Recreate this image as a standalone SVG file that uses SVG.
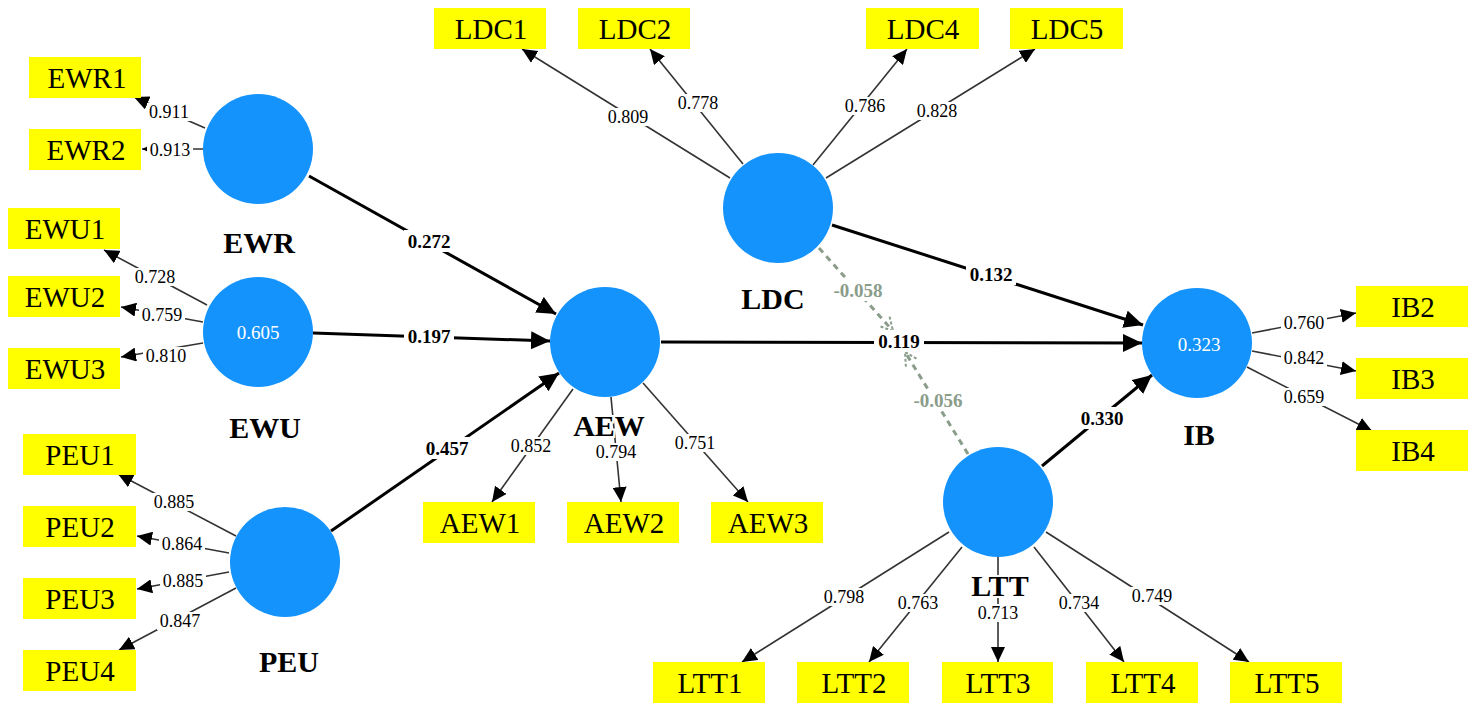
<svg xmlns="http://www.w3.org/2000/svg" width="1482" height="717" viewBox="0 0 1482 717">
<style>
.bg{fill:#ffffff}
.ind rect{fill:#ffff00}
.ind text{font-family:"Liberation Serif","Times New Roman",serif;font-size:29px;fill:#000;text-anchor:middle}
.lv circle{fill:#1493fd}
.lv text.nm{font-family:"Liberation Serif","Times New Roman",serif;font-size:30px;font-weight:bold;fill:#000;text-anchor:middle;stroke:#fff;stroke-width:4;paint-order:stroke}
.lv text.r2{font-family:"Liberation Serif","Times New Roman",serif;font-size:19px;fill:#fff;text-anchor:middle}
.ld{stroke:#333;stroke-width:1.6;fill:none;marker-end:url(#ah)}
.pt{stroke:#000;stroke-width:3;fill:none;marker-end:url(#ahb)}
.ds{stroke:#8a9c8a;stroke-width:3;stroke-dasharray:6 5;fill:none;marker-end:url(#ahd)}
.lb rect{fill:#fff}
.lb text{font-family:"Liberation Serif","Times New Roman",serif;font-size:18px;fill:#000;text-anchor:middle}
.lb text.b{font-size:19px;font-weight:bold}
.lb text.g{font-size:19px;font-weight:bold;fill:#8a9c8a}
</style>
<defs>
<marker id="ah" markerUnits="userSpaceOnUse" markerWidth="16" markerHeight="14" refX="15" refY="7" orient="auto"><path d="M0,0 L15,7 L0,14 z" fill="#000"/></marker>
<marker id="ahb" markerUnits="userSpaceOnUse" markerWidth="20" markerHeight="18" refX="19" refY="9" orient="auto"><path d="M0,0 L19,9 L0,18 z" fill="#000"/></marker>
<marker id="ahd" markerUnits="userSpaceOnUse" markerWidth="16" markerHeight="16" refX="14" refY="8" orient="auto"><path d="M1,1 L14,8 L1,15" fill="none" stroke="#8a9c8a" stroke-width="2" stroke-dasharray="3 2"/></marker>
</defs>
<rect class="bg" x="0" y="0" width="1482" height="717"/>

<g id="connectors">
  <!-- loadings -->
  <line class="ld" x1="205" y1="128" x2="134" y2="97"/>
  <line class="ld" x1="203" y1="149" x2="142" y2="149"/>
  <line class="ld" x1="207" y1="305" x2="104" y2="250"/>
  <line class="ld" x1="203" y1="322" x2="121" y2="307"/>
  <line class="ld" x1="203" y1="343" x2="121" y2="357"/>
  <line class="ld" x1="236" y1="536" x2="118" y2="474"/>
  <line class="ld" x1="229" y1="553" x2="137" y2="536"/>
  <line class="ld" x1="229" y1="572" x2="137" y2="589"/>
  <line class="ld" x1="236" y1="588" x2="119" y2="650"/>
  <line class="ld" x1="730" y1="178" x2="522" y2="49"/>
  <line class="ld" x1="743" y1="164" x2="650" y2="49"/>
  <line class="ld" x1="813" y1="165" x2="907" y2="49"/>
  <line class="ld" x1="826" y1="178" x2="1035" y2="49"/>
  <line class="ld" x1="573" y1="389" x2="492" y2="502"/>
  <line class="ld" x1="611" y1="397" x2="621" y2="502"/>
  <line class="ld" x1="643" y1="383" x2="748" y2="502"/>
  <line class="ld" x1="1252" y1="333" x2="1356" y2="313"/>
  <line class="ld" x1="1252" y1="351" x2="1356" y2="371"/>
  <line class="ld" x1="1247" y1="367" x2="1372" y2="431"/>
  <line class="ld" x1="949" y1="532" x2="742" y2="662"/>
  <line class="ld" x1="962" y1="547" x2="869" y2="662"/>
  <line class="ld" x1="998" y1="557" x2="998" y2="662"/>
  <line class="ld" x1="1034" y1="547" x2="1124" y2="662"/>
  <line class="ld" x1="1046" y1="532" x2="1249" y2="662"/>
  <!-- paths -->
  <line class="pt" x1="309" y1="176" x2="556" y2="314"/>
  <line class="pt" x1="313" y1="333" x2="550" y2="341"/>
  <line class="pt" x1="331" y1="531" x2="559" y2="373"/>
  <line class="pt" x1="661" y1="342" x2="1142" y2="343"/>
  <line class="pt" x1="832" y1="225" x2="1143" y2="325"/>
  <line class="pt" x1="1042" y1="466" x2="1152" y2="375"/>
  <!-- moderating (dashed) -->
  <line class="ds" x1="819" y1="248" x2="893" y2="331"/>
  <line class="ds" x1="968" y1="454" x2="905" y2="352"/>
  <!-- labels -->
  <g class="lb">
    <rect x="147" y="103" width="46" height="18"/><text x="169" y="118">0.911</text>
    <rect x="147" y="141" width="46" height="18"/><text x="170" y="156">0.913</text>
    <rect x="132" y="268" width="46" height="18"/><text x="155" y="283">0.728</text>
    <rect x="139" y="306" width="46" height="18"/><text x="162" y="321">0.759</text>
    <rect x="143" y="347" width="46" height="18"/><text x="166" y="362">0.810</text>
    <rect x="151" y="493" width="46" height="18"/><text x="174" y="508">0.885</text>
    <rect x="159" y="535" width="46" height="18"/><text x="182" y="550">0.864</text>
    <rect x="160" y="572" width="46" height="18"/><text x="183" y="587">0.885</text>
    <rect x="157" y="612" width="46" height="18"/><text x="180" y="627">0.847</text>
    <rect x="605" y="108" width="46" height="18"/><text x="628" y="123">0.809</text>
    <rect x="675" y="94" width="46" height="18"/><text x="698" y="109">0.778</text>
    <rect x="842" y="97" width="46" height="18"/><text x="865" y="112">0.786</text>
    <rect x="914" y="102" width="46" height="18"/><text x="937" y="117">0.828</text>
    <rect x="508" y="437" width="46" height="18"/><text x="531" y="452">0.852</text>
    <rect x="593" y="443" width="46" height="18"/><text x="616" y="458">0.794</text>
    <rect x="672" y="434" width="46" height="18"/><text x="695" y="449">0.751</text>
    <rect x="1281" y="314" width="46" height="18"/><text x="1304" y="329">0.760</text>
    <rect x="1281" y="349" width="46" height="18"/><text x="1304" y="364">0.842</text>
    <rect x="1281" y="388" width="46" height="18"/><text x="1304" y="403">0.659</text>
    <rect x="821" y="588" width="46" height="18"/><text x="844" y="603">0.798</text>
    <rect x="895" y="594" width="46" height="18"/><text x="918" y="609">0.763</text>
    <rect x="975" y="604" width="46" height="18"/><text x="998" y="619">0.713</text>
    <rect x="1056" y="594" width="46" height="18"/><text x="1079" y="609">0.734</text>
    <rect x="1129" y="587" width="46" height="18"/><text x="1152" y="602">0.749</text>
    <rect x="404" y="230" width="50" height="22"/><text class="b" x="429" y="248">0.272</text>
    <rect x="404" y="325" width="50" height="22"/><text class="b" x="429" y="343">0.197</text>
    <rect x="422" y="437" width="50" height="22"/><text class="b" x="447" y="455">0.457</text>
    <rect x="874" y="330" width="50" height="22"/><text class="b" x="899" y="348">0.119</text>
    <rect x="966" y="263" width="50" height="22"/><text class="b" x="991" y="281">0.132</text>
    <rect x="1077" y="407" width="50" height="22"/><text class="b" x="1102" y="425">0.330</text>
    <rect x="831" y="279" width="54" height="22"/><text class="g" x="858" y="297">-0.058</text>
    <rect x="911" y="389" width="54" height="22"/><text class="g" x="938" y="407">-0.056</text>
  </g>
</g>

<g id="EWR" class="lv"><circle cx="258" cy="149" r="55"/><text class="nm" x="259" y="253">EWR</text></g>
<g id="EWU" class="lv"><circle cx="258" cy="332" r="55"/><text class="r2" x="258" y="339">0.605</text><text class="nm" x="265" y="438">EWU</text></g>
<g id="PEU" class="lv"><circle cx="285" cy="562" r="55"/><text class="nm" x="289" y="672">PEU</text></g>
<g id="AEW" class="lv"><circle cx="605" cy="342" r="55"/><text class="nm" x="609" y="436">AEW</text></g>
<g id="LDC" class="lv"><circle cx="778" cy="208" r="55"/><text class="nm" x="773" y="309">LDC</text></g>
<g id="IB" class="lv"><circle cx="1197" cy="343" r="55"/><text class="r2" x="1199" y="351">0.323</text><text class="nm" x="1199" y="445">IB</text></g>
<g id="LTT" class="lv"><circle cx="998" cy="502" r="55"/><text class="nm" x="1000" y="596">LTT</text></g>

<g id="EWR1" class="ind"><rect x="29" y="57" width="112" height="41"/><text x="87" y="88">EWR1</text></g>
<g id="EWR2" class="ind"><rect x="29" y="129" width="112" height="41"/><text x="86" y="160">EWR2</text></g>
<g id="EWU1" class="ind"><rect x="8" y="208" width="112" height="41"/><text x="65" y="239">EWU1</text></g>
<g id="EWU2" class="ind"><rect x="8" y="276" width="112" height="41"/><text x="65" y="307">EWU2</text></g>
<g id="EWU3" class="ind"><rect x="8" y="348" width="112" height="41"/><text x="65" y="379">EWU3</text></g>
<g id="PEU1" class="ind"><rect x="23" y="434" width="113" height="41"/><text x="80" y="465">PEU1</text></g>
<g id="PEU2" class="ind"><rect x="23" y="506" width="113" height="41"/><text x="80" y="537">PEU2</text></g>
<g id="PEU3" class="ind"><rect x="23" y="578" width="113" height="41"/><text x="80" y="609">PEU3</text></g>
<g id="PEU4" class="ind"><rect x="23" y="650" width="113" height="41"/><text x="80" y="681">PEU4</text></g>
<g id="LDC1" class="ind"><rect x="434" y="8" width="112" height="41"/><text x="491" y="39">LDC1</text></g>
<g id="LDC2" class="ind"><rect x="578" y="8" width="112" height="41"/><text x="635" y="39">LDC2</text></g>
<g id="LDC4" class="ind"><rect x="866" y="8" width="113" height="41"/><text x="923" y="39">LDC4</text></g>
<g id="LDC5" class="ind"><rect x="1010" y="8" width="113" height="41"/><text x="1067" y="39">LDC5</text></g>
<g id="AEW1" class="ind"><rect x="423" y="502" width="112" height="41"/><text x="480" y="533">AEW1</text></g>
<g id="AEW2" class="ind"><rect x="567" y="502" width="112" height="41"/><text x="624" y="533">AEW2</text></g>
<g id="AEW3" class="ind"><rect x="711" y="502" width="112" height="41"/><text x="768" y="533">AEW3</text></g>
<g id="IB2" class="ind"><rect x="1356" y="286" width="112" height="41"/><text x="1413" y="317">IB2</text></g>
<g id="IB3" class="ind"><rect x="1356" y="358" width="112" height="41"/><text x="1413" y="389">IB3</text></g>
<g id="IB4" class="ind"><rect x="1356" y="430" width="112" height="41"/><text x="1413" y="461">IB4</text></g>
<g id="LTT1" class="ind"><rect x="653" y="662" width="112" height="41"/><text x="710" y="693">LTT1</text></g>
<g id="LTT2" class="ind"><rect x="797" y="662" width="112" height="41"/><text x="854" y="693">LTT2</text></g>
<g id="LTT3" class="ind"><rect x="942" y="662" width="111" height="41"/><text x="998" y="693">LTT3</text></g>
<g id="LTT4" class="ind"><rect x="1086" y="662" width="112" height="41"/><text x="1143" y="693">LTT4</text></g>
<g id="LTT5" class="ind"><rect x="1230" y="662" width="112" height="41"/><text x="1287" y="693">LTT5</text></g>
</svg>
